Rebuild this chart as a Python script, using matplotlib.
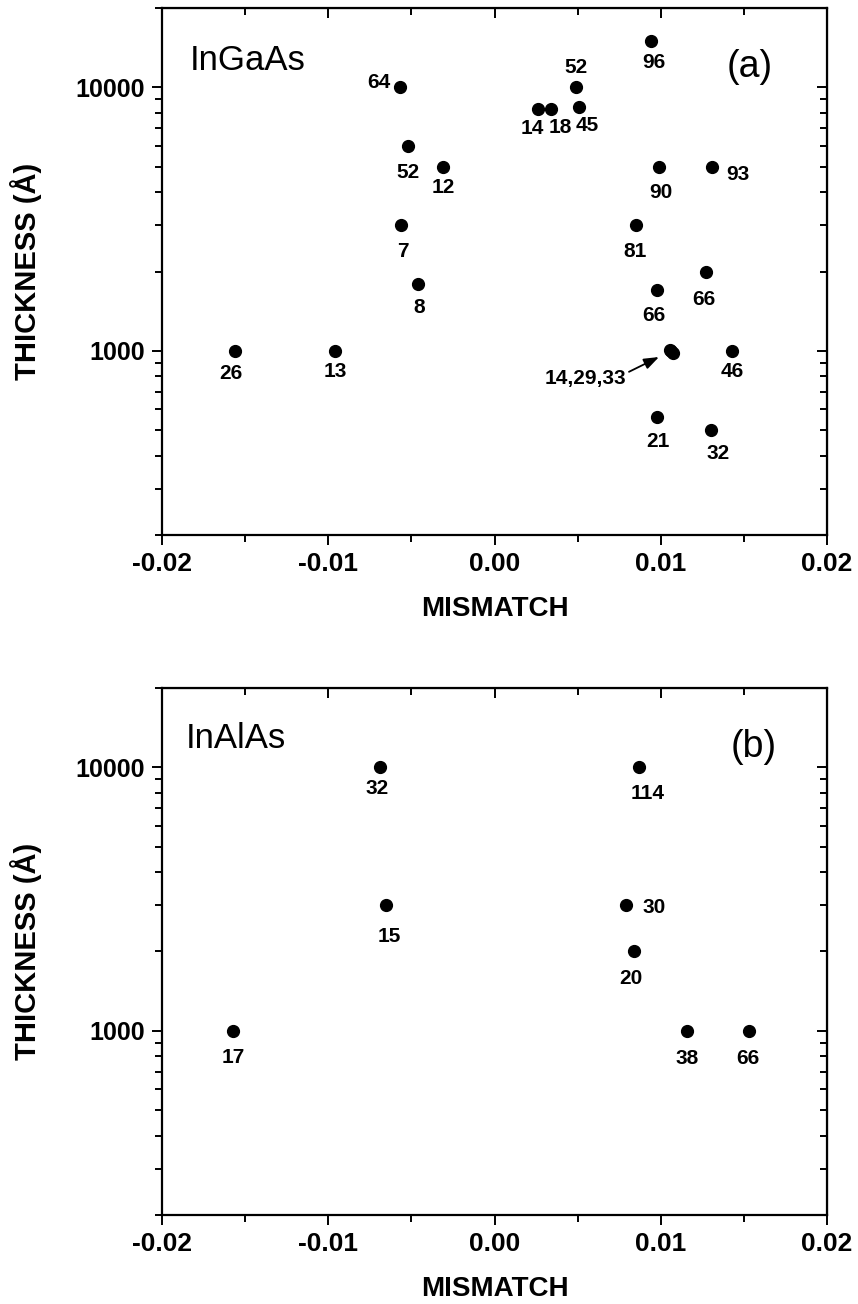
import numpy as np
import matplotlib
matplotlib.use("Agg")
import matplotlib.pyplot as plt
from matplotlib.ticker import MultipleLocator, LogLocator, NullFormatter, FuncFormatter

plt.rcParams["font.family"] = ["Liberation Sans", "DejaVu Sans"]
plt.rcParams["axes.unicode_minus"] = False

# panel (a): InGaAs
ingaas_mismatch = [-0.0156, -0.0096, -0.0057, -0.0052, -0.0031, -0.0056, -0.0046,
                   0.0026, 0.0034, 0.0049, 0.0051, 0.0094, 0.0099, 0.0131, 0.0085,
                   0.0127, 0.0098, 0.0143, 0.0098, 0.0130]
ingaas_thickness = [1000, 1000, 10000, 6000, 5000, 3000, 1800,
                    8300, 8300, 10000, 8400, 15000, 5000, 5000, 3000,
                    2000, 1700, 1000, 560, 500]
ingaas_labels = ["26", "13", "64", "52", "12", "7", "8",
                 "14", "18", "52", "45", "96", "90", "93", "81",
                 "66", "66", "46", "21", "32"]

# three overlapping points sharing one label
cluster_mismatch = [0.01056, 0.01064, 0.01072]
cluster_thickness = [1010, 1000, 985]
cluster_label = "14,29,33"

# panel (b): InAlAs
inalas_mismatch = [-0.0157, -0.0069, -0.0065, 0.0087, 0.0079, 0.0084, 0.0116, 0.0153]
inalas_thickness = [1000, 10000, 3000, 10000, 3000, 2000, 1000, 1000]
inalas_labels = ["17", "32", "15", "114", "30", "20", "38", "66"]

# label placement (pixels relative to the point)
ingaas_offsets = [(-4, -23), (0, -21), (-21, 5), (0, -27), (0, -21), (1, -26), (1, -24),
                  (-5, -20), (9, -19), (0, 20), (8, -18), (3, -21), (2, -26), (26, -8),
                  (-1, -26), (-2, -28), (-4, -25), (0, -21), (0, -24), (7, -23)]
inalas_offsets = [(0, -27), (-3, -21), (3, -31), (8, -26), (28, -2), (-3, -27), (0, -28), (-1, -28)]


def setup_axes(ax):
    ax.set_yscale("log")
    ax.set_xlim(-0.02, 0.02)
    ax.set_ylim(200, 20000)
    ax.xaxis.set_major_locator(MultipleLocator(0.01))
    ax.xaxis.set_minor_locator(MultipleLocator(0.005))
    ax.xaxis.set_major_formatter(FuncFormatter(lambda v, p: f"{v:.2f}"))
    ax.yaxis.set_major_locator(LogLocator(base=10))
    ax.yaxis.set_minor_locator(LogLocator(base=10, subs=np.arange(2, 10)))
    ax.yaxis.set_major_formatter(FuncFormatter(lambda v, p: f"{v:.0f}"))
    ax.yaxis.set_minor_formatter(NullFormatter())
    ax.tick_params(which="both", direction="out", width=1.4, pad=5)
    ax.tick_params(axis="x", labelsize=19)
    ax.tick_params(axis="y", labelsize=18)
    ax.tick_params(which="major", length=7)
    ax.tick_params(which="minor", length=5)
    for lab in ax.get_xticklabels() + ax.get_yticklabels():
        lab.set_fontweight("bold")
    for sp in ax.spines.values():
        sp.set_linewidth(1.6)

    # mirrored ticks pointing inward on top and right
    top = ax.secondary_xaxis("top")
    top.xaxis.set_major_locator(MultipleLocator(0.01))
    top.xaxis.set_minor_locator(MultipleLocator(0.005))
    top.tick_params(which="both", direction="in", width=1.4, labeltop=False)
    top.tick_params(which="major", length=7)
    top.tick_params(which="minor", length=5)
    right = ax.secondary_yaxis("right")
    right.yaxis.set_major_locator(LogLocator(base=10))
    right.yaxis.set_minor_locator(LogLocator(base=10, subs=np.arange(2, 10)))
    right.tick_params(which="both", direction="in", width=1.4, labelright=False)
    right.tick_params(which="major", length=7)
    right.tick_params(which="minor", length=5)

    ax.set_xlabel("MISMATCH", fontsize=20, fontweight="bold")
    ax.set_ylabel("THICKNESS (Å)", fontsize=21, fontweight="bold")
    ax.xaxis.set_label_coords(0.5, -0.115)
    ax.yaxis.set_label_coords(-0.18, 0.5)


def label_points(ax, xs, ys, labels, offsets):
    for x, y, t, (dx, dy) in zip(xs, ys, labels, offsets):
        ax.annotate(t, (x, y), xytext=(dx, dy), textcoords="offset pixels",
                    ha="center", va="center", fontsize=15, fontweight="bold")


fig = plt.figure(figsize=(8.58, 13.04), dpi=100)
ax1 = fig.add_axes([0.1888, 0.5897, 0.7751, 0.4041])
ax2 = fig.add_axes([0.1888, 0.0683, 0.7751, 0.4041])

setup_axes(ax1)
ax1.plot(ingaas_mismatch, ingaas_thickness, "o", color="black", ms=8.5)
ax1.plot(cluster_mismatch, cluster_thickness, "o", color="black", ms=8.5)
label_points(ax1, ingaas_mismatch, ingaas_thickness, ingaas_labels, ingaas_offsets)
ax1.annotate(cluster_label, (cluster_mismatch[1], cluster_thickness[1]),
             xytext=(-86, -28), textcoords="offset pixels", ha="center", va="center",
             fontsize=15, fontweight="bold",
             arrowprops=dict(arrowstyle="-|>,head_length=0.6,head_width=0.22",
                             color="black", lw=1.3, relpos=(1.0, 0.8),
                             shrinkA=0, shrinkB=10))
ax1.text(0.042, 0.882, "InGaAs", transform=ax1.transAxes, fontsize=25,
         ha="left", va="baseline")
ax1.text(0.883, 0.888, "(a)", transform=ax1.transAxes, fontsize=27,
         ha="center", va="center")

setup_axes(ax2)
ax2.plot(inalas_mismatch, inalas_thickness, "o", color="black", ms=8.5)
label_points(ax2, inalas_mismatch, inalas_thickness, inalas_labels, inalas_offsets)
ax2.text(0.036, 0.886, "InAlAs", transform=ax2.transAxes, fontsize=25,
         ha="left", va="baseline")
ax2.text(0.89, 0.888, "(b)", transform=ax2.transAxes, fontsize=27,
         ha="center", va="center")

fig.savefig("out.png", dpi=100)
